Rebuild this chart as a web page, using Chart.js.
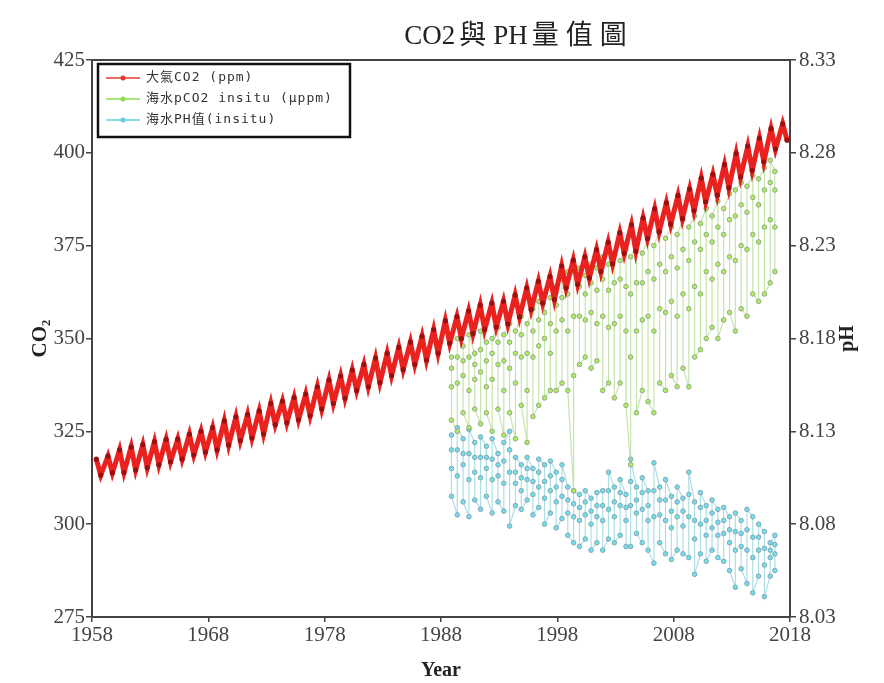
<!DOCTYPE html>
<html>
<head>
<meta charset="utf-8">
<script src="https://cdn.jsdelivr.net/npm/chart.js@4.4.0/dist/chart.umd.min.js"></script>
<style>
  html, body { margin: 0; padding: 0; background: #fff; }
  #wrap { position: relative; width: 884px; height: 683px; }
  #title {
    position: absolute; top: 13px; left: 519px; transform: translateX(-50%);
    font: 27px "Liberation Serif", "Noto Sans CJK TC", serif;
    color: #222; white-space: nowrap;
  }
  #title .cjk { letter-spacing: 7px; margin-left: 4px; }
</style>
</head>
<body>
<div id="wrap">
  <canvas id="chart" width="884" height="683"></canvas>
  <div id="title">CO2<span class="cjk">與</span>PH<span class="cjk">量值圖</span></div>
</div>
<script>
// 大氣CO2 (Mauna Loa), 每年高峰(5月)與低谷(9月)
const co2Years = [1958,1959,1960,1961,1962,1963,1964,1965,1966,1967,
  1968,1969,1970,1971,1972,1973,1974,1975,1976,1977,
  1978,1979,1980,1981,1982,1983,1984,1985,1986,1987,
  1988,1989,1990,1991,1992,1993,1994,1995,1996,1997,
  1998,1999,2000,2001,2002,2003,2004,2005,2006,2007,
  2008,2009,2010,2011,2012,2013,2014,2015,2016,2017];
const co2Peak = [317.5,318.3,320.0,320.8,321.4,322.2,322.8,322.9,324.2,325.0,
  326.0,327.8,328.9,329.5,330.5,332.5,333.1,334.1,335.0,337.0,
  338.8,339.9,341.5,343.0,344.7,346.0,347.6,349.0,350.6,352.4,
  354.8,355.9,357.4,359.0,359.5,360.0,361.7,363.6,365.4,366.7,
  369.5,371.1,372.0,373.9,375.9,378.5,380.6,382.4,384.9,386.5,
  388.5,390.2,393.2,394.2,396.8,399.8,401.8,403.9,406.5,407.8];
const co2Trough = [313.2,313.8,313.9,314.6,315.2,316.0,316.8,317.5,318.6,319.4,
  320.0,321.3,322.5,323.2,324.3,326.8,327.3,328.1,329.2,331.0,
  332.5,333.9,336.0,337.0,338.1,340.0,341.6,343.0,344.2,346.0,
  348.7,350.0,351.3,352.4,353.1,353.9,355.8,357.8,359.5,360.5,
  363.6,364.6,366.3,368.0,370.1,372.9,373.5,376.9,378.7,380.8,
  382.3,384.4,386.8,388.6,390.6,393.5,395.3,397.6,401.0,403.4];

// 海水觀測 (insitu) 航次時間
const seaYears = [1988.9,1989.4,1989.9,1990.4,1990.9,1991.4,1991.9,1992.4,1992.9,1993.4,
  1993.9,1994.4,1994.9,1995.4,1995.9,1996.4,1996.9,1997.4,1997.9,1998.4,
  1998.9,1999.4,1999.9,2000.4,2000.9,2001.4,2001.9,2002.4,2002.9,2003.4,
  2003.9,2004.3,2004.8,2005.3,2005.8,2006.3,2006.8,2007.3,2007.8,2008.3,
  2008.8,2009.3,2009.8,2010.3,2010.8,2011.3,2011.8,2012.3,2012.8,2013.3,
  2013.8,2014.3,2014.8,2015.3,2015.8,2016.3,2016.7];

// 海水pCO2: 每航次 最高 / 偏高 / 中間 / 最低
const pco2Hi = [345,350,348,351,346,352,349,350,353,351,
  354,352,356,354,358,360,362,361,364,366,
  368,368,369,367,370,369,372,370,373,371,
  374,372,375,373,377,375,379,377,380,378,
  382,380,383,381,385,383,387,385,389,390,
  392,391,394,393,396,398,395];
const pco2Mid2 = [342,345,344,345,343,347,344,346,349,344,
  349,346,351,346,352,355,357,354,359,361,
  362,356,364,362,365,363,366,363,365,366,
  364,362,365,365,368,366,370,368,372,369,
  374,371,376,374,378,376,380,378,382,383,
  386,384,388,386,390,392,390];
const pco2Mid = [337,338,340,336,339,341,337,339,343,336,
  342,338,345,336,345,348,350,346,352,355,
  352,340,356,355,357,354,356,353,354,356,
  352,345,352,355,356,352,358,357,360,356,
  362,358,364,362,368,366,370,368,372,371,
  375,374,378,376,380,382,380];
const pco2Lo = [328,325,330,326,331,327,330,325,331,324,
  330,323,332,322,329,332,334,336,336,338,
  336,309,343,345,342,344,336,338,334,338,
  332,316,330,336,333,330,338,336,340,337,
  342,337,345,347,350,353,350,355,357,352,
  358,356,362,360,362,365,368];

// 海水pH值: 每航次 最高 / 偏高 / 中間 / 最低
const phHi = [8.128,8.132,8.126,8.131,8.124,8.127,8.122,8.126,8.118,8.124,
  8.130,8.116,8.112,8.116,8.110,8.115,8.112,8.114,8.108,8.112,
  8.100,8.098,8.096,8.098,8.094,8.097,8.098,8.108,8.100,8.104,
  8.096,8.115,8.100,8.105,8.098,8.113,8.100,8.104,8.095,8.100,
  8.094,8.108,8.092,8.097,8.090,8.093,8.088,8.089,8.084,8.086,
  8.082,8.088,8.084,8.080,8.076,8.070,8.074];
const phMid2 = [8.120,8.120,8.118,8.118,8.116,8.116,8.116,8.115,8.112,8.114,
  8.120,8.108,8.105,8.110,8.103,8.108,8.103,8.106,8.100,8.104,
  8.093,8.091,8.089,8.092,8.087,8.090,8.090,8.098,8.092,8.097,
  8.089,8.103,8.093,8.097,8.090,8.098,8.093,8.093,8.087,8.092,
  8.087,8.096,8.082,8.089,8.082,8.086,8.081,8.082,8.077,8.076,
  8.075,8.077,8.073,8.073,8.067,8.066,8.069];
const phMid = [8.110,8.106,8.112,8.104,8.108,8.105,8.110,8.104,8.106,8.102,
  8.108,8.102,8.098,8.104,8.096,8.100,8.094,8.098,8.092,8.095,
  8.086,8.084,8.082,8.085,8.080,8.084,8.082,8.088,8.084,8.090,
  8.082,8.090,8.086,8.088,8.082,8.084,8.085,8.082,8.078,8.084,
  8.079,8.084,8.072,8.080,8.074,8.078,8.074,8.075,8.070,8.066,
  8.068,8.066,8.062,8.066,8.058,8.062,8.064];
const phLo = [8.095,8.085,8.092,8.084,8.093,8.088,8.095,8.086,8.092,8.087,
  8.079,8.090,8.088,8.093,8.085,8.089,8.080,8.086,8.078,8.083,
  8.074,8.070,8.068,8.072,8.066,8.070,8.066,8.072,8.070,8.074,
  8.068,8.068,8.075,8.070,8.066,8.059,8.070,8.064,8.061,8.066,
  8.064,8.062,8.053,8.064,8.060,8.066,8.062,8.060,8.055,8.046,
  8.056,8.048,8.043,8.052,8.041,8.052,8.055];

const yearTicks = [1958, 1968, 1978, 1988, 1998, 2008, 2018];

// 每年: 5月高峰, 9月底低谷
const co2Points = [];
co2Years.forEach((yr, i) => {
  co2Points.push({ x: yr + 0.37, y: co2Peak[i] });
  co2Points.push({ x: yr + 0.75, y: co2Trough[i] });
});

// 每個航次畫成一條直線 (上下交替)
function cruisePoints(hi, mid2, mid, lo) {
  const pts = [];
  seaYears.forEach((yr, i) => {
    const vals = i % 2 === 0 ? [hi[i], mid2[i], mid[i], lo[i]] : [lo[i], mid[i], mid2[i], hi[i]];
    vals.forEach(v => pts.push({ x: yr, y: v }));
  });
  return pts;
}

const serif = '"Liberation Serif", "Times New Roman", serif';
const tickFont = { family: serif, size: 21 };

const frameAndLegend = {
  id: 'frameAndLegend',
  afterDraw(chart) {
    const { ctx, chartArea } = chart;
    ctx.save();
    // top border
    ctx.strokeStyle = '#444';
    ctx.lineWidth = 2;
    ctx.beginPath();
    ctx.moveTo(chartArea.left, chartArea.top);
    ctx.lineTo(chartArea.right, chartArea.top);
    ctx.stroke();

    // right axis title, same rotation as left
    ctx.fillStyle = '#222';
    ctx.font = 'bold 20px ' + serif;
    ctx.textAlign = 'center';
    ctx.textBaseline = 'middle';
    ctx.translate(848, (chartArea.top + chartArea.bottom) / 2);
    ctx.rotate(-Math.PI / 2);
    ctx.fillText('pH', 0, 0);
    ctx.restore();

    // legend box
    ctx.save();
    const x0 = chartArea.left + 6, y0 = chartArea.top + 4, w = 252, h = 73;
    ctx.fillStyle = '#fff';
    ctx.fillRect(x0, y0, w, h);
    ctx.strokeStyle = '#111';
    ctx.lineWidth = 2.5;
    ctx.strokeRect(x0, y0, w, h);
    ctx.font = '13px "DejaVu Sans Mono", "Noto Sans CJK TC", monospace';
    ctx.letterSpacing = '1px';
    ctx.textAlign = 'left';
    ctx.textBaseline = 'middle';
    chart.data.datasets.forEach((ds, i) => {
      const y = y0 + 14 + i * 21;
      ctx.strokeStyle = ds.legendColor;
      ctx.lineWidth = 1.5;
      ctx.beginPath();
      ctx.moveTo(x0 + 8, y);
      ctx.lineTo(x0 + 42, y);
      ctx.stroke();
      ctx.fillStyle = ds.legendColor;
      ctx.beginPath();
      ctx.arc(x0 + 25, y, 2.5, 0, Math.PI * 2);
      ctx.fill();
      ctx.fillStyle = '#333';
      ctx.fillText(ds.label, x0 + 48, y);
    });
    ctx.restore();
  }
};

new Chart(document.getElementById('chart'), {
  type: 'line',
  data: {
    datasets: [
      {
        label: '大氣CO2 (ppm)',
        data: co2Points,
        yAxisID: 'y',
        borderColor: 'rgba(232,22,20,0.95)',
        borderWidth: 5,
        pointRadius: 2.6,
        pointBackgroundColor: '#9c0f0f',
        pointBorderWidth: 0,
        tension: 0,
        legendColor: '#e23a2a'
      },
      {
        label: '海水pCO2 insitu (μppm)',
        data: cruisePoints(pco2Hi, pco2Mid2, pco2Mid, pco2Lo),
        yAxisID: 'y',
        borderColor: 'rgba(160,210,120,0.6)',
        borderWidth: 1.2,
        pointRadius: 2.3,
        pointBackgroundColor: '#abee60',
        pointBorderColor: '#94a884',
        pointBorderWidth: 1,
        tension: 0,
        legendColor: '#8fdc50'
      },
      {
        label: '海水PH值(insitu)',
        data: cruisePoints(phHi, phMid2, phMid, phLo),
        yAxisID: 'y2',
        borderColor: 'rgba(120,200,215,0.6)',
        borderWidth: 1.2,
        pointRadius: 2.3,
        pointBackgroundColor: '#70def0',
        pointBorderColor: '#82a8ae',
        pointBorderWidth: 1,
        tension: 0,
        legendColor: '#5fd0e0'
      }
    ]
  },
  options: {
    responsive: false,
    animation: false,
    devicePixelRatio: 1,
    layout: { padding: { top: 60, left: 0, right: 0, bottom: 0 } },
    plugins: { legend: { display: false }, title: { display: false }, tooltip: { enabled: false } },
    scales: {
      x: {
        type: 'linear',
        min: 1958,
        max: 2018,
        afterBuildTicks: s => { s.ticks = yearTicks.map(v => ({ value: v })); },
        ticks: { callback: v => String(v), color: '#444', font: tickFont, padding: 1, maxRotation: 0 },
        grid: { drawOnChartArea: false, color: '#444', tickLength: 5, lineWidth: 1.5 },
        border: { color: '#444', width: 2 },
        title: { display: true, text: 'Year', color: '#222', font: { family: serif, size: 20, weight: 'bold' }, padding: { top: 0, bottom: 0 } },
        afterFit: s => { s.height = 66; }
      },
      y: {
        position: 'left',
        min: 275,
        max: 425,
        ticks: { stepSize: 25, color: '#444', font: tickFont, padding: 1 },
        grid: { drawOnChartArea: false, color: '#444', tickLength: 6, lineWidth: 1.5 },
        border: { color: '#444', width: 2 },
        title: { display: true, text: 'CO₂', color: '#222', font: { family: serif, size: 21, weight: 'bold' }, padding: { top: 28, bottom: 0 } },
        afterFit: s => { s.width = 92; }
      },
      y2: {
        position: 'right',
        min: 8.03,
        max: 8.33,
        ticks: { stepSize: 0.05, callback: v => v.toFixed(2), color: '#444', font: tickFont, padding: 3 },
        grid: { drawOnChartArea: false, color: '#444', tickLength: 6, lineWidth: 1.5 },
        border: { color: '#444', width: 2 },
        afterFit: s => { s.width = 94; }
      }
    }
  },
  plugins: [frameAndLegend]
});
</script>
</body>
</html>
